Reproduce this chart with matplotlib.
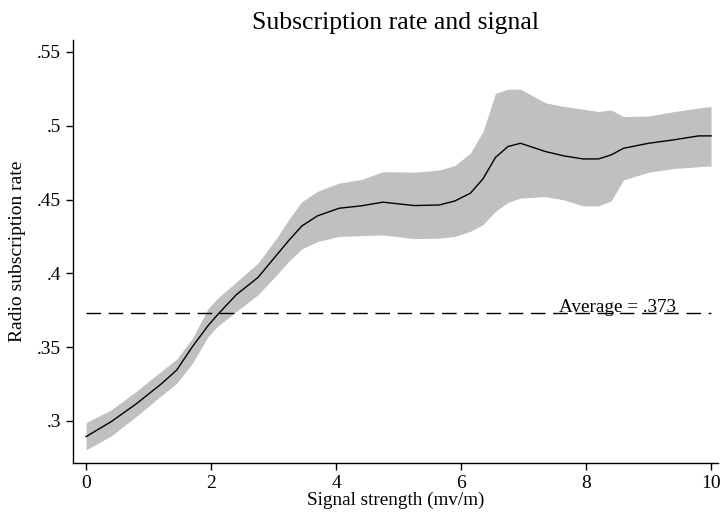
import matplotlib
matplotlib.use("Agg")
import matplotlib.pyplot as plt

plt.rcParams['font.family'] = ['Liberation Serif', 'DejaVu Serif']

signal = [0, 0.4, 0.8, 1.2, 1.45, 1.7, 1.95, 2.1, 2.4, 2.75, 3.05, 3.25, 3.45, 3.7,
          4.05, 4.4, 4.75, 5.25, 5.65, 5.9, 6.15, 6.35, 6.55, 6.75, 6.95, 7.35, 7.65,
          7.95, 8.2, 8.4, 8.6, 9.0, 9.4, 9.8, 10.0]
rate = [.2894, .2995, .3115, .3250, .3345, .3503, .3645, .3718, .3854, .3972, .4125,
        .4226, .4320, .4389, .4441, .4457, .4482, .4459, .4463, .4490, .4543, .4640,
        .4785, .4859, .4881, .4825, .4795, .4775, .4775, .4802, .4847, .4881, .4904,
        .4931, .4931]
upper = [.2989, .3075, .3200, .3336, .3420, .3560, .3760, .3830, .3940, .4070, .4240,
         .4370, .4485, .4555, .4612, .4635, .4689, .4685, .4700, .4730, .4815, .4960,
         .5220, .5247, .5247, .5155, .5130, .5112, .5096, .5107, .5062, .5066, .5095,
         .5120, .5130]
lower = [.2804, .2898, .3030, .3170, .3255, .3390, .3570, .3640, .3740, .3855, .3990,
         .4085, .4165, .4215, .4250, .4255, .4260, .4235, .4238, .4250, .4285, .4330,
         .4420, .4480, .4510, .4520, .4497, .4457, .4457, .4490, .4633, .4685, .4710,
         .4722, .4728]
average = 0.373
avg_label = "Average = .373"
xticks = [0, 2, 4, 6, 8, 10]
yticks = [.3, .35, .4, .45, .5, .55]
ytick_labels = [".3", ".35", ".4", ".45", ".5", ".55"]

fig = plt.figure(figsize=(7.23, 5.12), dpi=100)
ax = fig.add_axes([0.101, 0.0957, 0.892, 0.826])

ax.fill_between(signal, lower, upper, color='#c0c0c0', linewidth=0)
ax.plot(signal, rate, color='black', linewidth=1.0)
ax.plot([signal[0], signal[-1]], [average, average], color='black', linewidth=1.0,
        dashes=(10.5, 5.5))
ax.text(8.51, average + 0.0008, avg_label, ha='center', va='baseline', fontsize=13.8)

ax.set_xlim(-0.21, 10.11)
ax.set_ylim(0.2715, 0.558)
ax.set_xticks(xticks)
ax.set_xticklabels([str(t) for t in xticks])
ax.set_yticks(yticks)
ax.set_yticklabels(ytick_labels)
ax.tick_params(axis='both', direction='out', length=5, width=1, labelsize=14, colors='black')

for s in ['top', 'right']:
    ax.spines[s].set_visible(False)
for s in ['left', 'bottom']:
    ax.spines[s].set_linewidth(1.0)

ax.set_title("Subscription rate and signal", fontsize=18.5, pad=8)
ax.set_xlabel("Signal strength (mv/m)", fontsize=13.8, labelpad=0)
ax.set_ylabel("Radio subscription rate", fontsize=14, labelpad=8)

fig.savefig("out.png", dpi=100)
